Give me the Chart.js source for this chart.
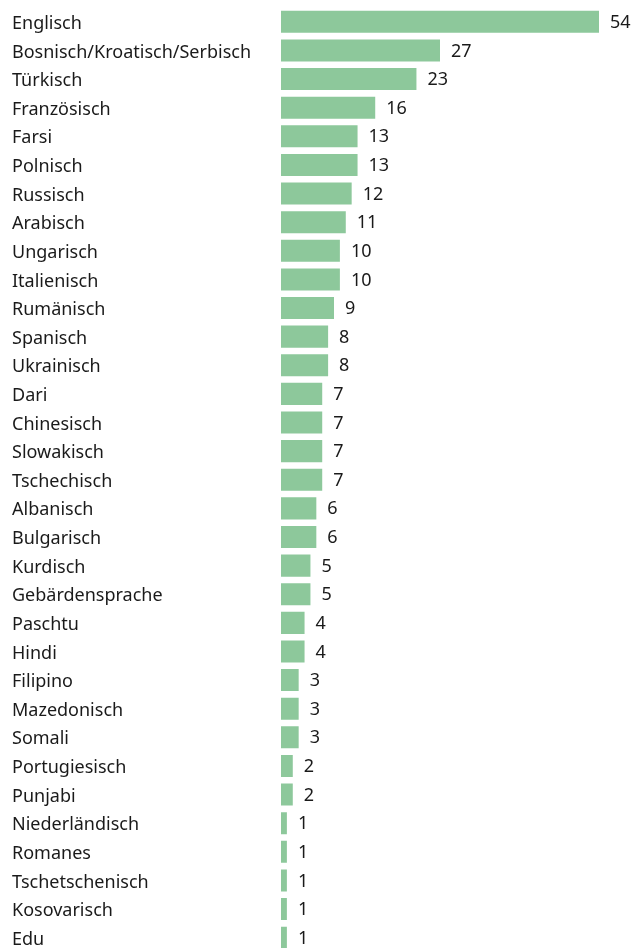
<!DOCTYPE html>
<html>
<head>
<meta charset="utf-8">
<script src="https://cdn.jsdelivr.net/npm/chart.js@4"></script>
<style>
  html, body { margin: 0; padding: 0; background: #fff; overflow: hidden; }
  canvas { display: block; }
</style>
</head>
<body>
<canvas id="c" width="633" height="952" style="width:633px;height:952px"></canvas>
<script>
const categories = ["Englisch","Bosnisch/Kroatisch/Serbisch","Türkisch","Französisch","Farsi","Polnisch","Russisch","Arabisch","Ungarisch","Italienisch","Rumänisch","Spanisch","Ukrainisch","Dari","Chinesisch","Slowakisch","Tschechisch","Albanisch","Bulgarisch","Kurdisch","Gebärdensprache","Paschtu","Hindi","Filipino","Mazedonisch","Somali","Portugiesisch","Punjabi","Niederländisch","Romanes","Tschetschenisch","Kosovarisch","Edu"];
const values = [54,27,23,16,13,13,12,11,10,10,9,8,8,7,7,7,7,6,6,5,5,4,4,3,3,3,2,2,1,1,1,1,1];

const FONT = "'Noto Sans', sans-serif";
const FONT_SIZE = 18;
const TEXT_COLOR = '#1a1a1a';
const BAR_COLOR = '#8dc89b';

const valueLabels = {
  id: 'valueLabels',
  afterDatasetsDraw(chart) {
    const ctx = chart.ctx;
    const meta = chart.getDatasetMeta(0);
    ctx.save();
    ctx.font = FONT_SIZE + 'px ' + FONT;
    ctx.fillStyle = TEXT_COLOR;
    ctx.textAlign = 'left';
    ctx.textBaseline = 'middle';
    meta.data.forEach((bar, i) => {
      ctx.fillText(String(values[i]), bar.x + 11, bar.y + 1);
    });
    ctx.restore();
  }
};

new Chart(document.getElementById('c'), {
  type: 'bar',
  data: {
    labels: categories,
    datasets: [{
      data: values,
      backgroundColor: BAR_COLOR,
      borderWidth: 0,
      categoryPercentage: 1.0,
      barPercentage: 0.77
    }]
  },
  options: {
    indexAxis: 'y',
    responsive: false,
    animation: false,
    devicePixelRatio: 1,
    layout: { padding: { left: 12, right: 34, top: 7.5, bottom: 0 } },
    plugins: { legend: { display: false }, tooltip: { enabled: false } },
    scales: {
      x: {
        min: 0, max: 54,
        display: false,
        grid: { display: false }
      },
      y: {
        grid: { display: false, drawTicks: false },
        border: { display: false },
        ticks: {
          crossAlign: 'far',
          padding: 0,
          labelOffset: 2,
          color: TEXT_COLOR,
          font: { family: FONT, size: FONT_SIZE }
        },
        afterFit(scale) {
          scale.width = 281 - 12;
          scale.paddingTop = 0;
          scale.paddingBottom = 0;
        }
      }
    }
  },
  plugins: [valueLabels]
});
</script>
</body>
</html>
